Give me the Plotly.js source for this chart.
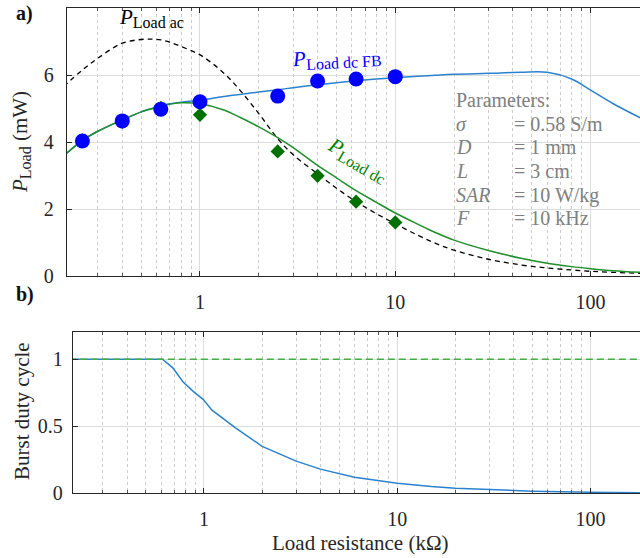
<!DOCTYPE html>
<html>
<head>
<meta charset="utf-8">
<script src="https://cdn.plot.ly/plotly-3.0.1.min.js"></script>
<style>html,body{margin:0;padding:0;background:#fff;}#chart{width:640px;height:558px;}</style>
</head>
<body>
<div id="chart"></div>
<script>
// ---------- Panel a: model curves (load resistance in kΩ, power in mW) ----------
const rCurve = [0.2,0.25,0.3,0.4,0.5,0.57,0.63,0.7,0.8,1,1.3,1.6,2,2.5,3,4,5,6.3,8,10,13,16,20,30,44,60,80,100,130,180];
const pLoadAc = [5.65,6.15,6.5,6.95,7.06,7.07,7.05,6.98,6.85,6.6,6.1,5.55,4.85,4.1,3.62,3.05,2.62,2.22,1.86,1.56,1.22,0.98,0.77,0.5,0.33,0.24,0.18,0.14,0.11,0.08];
const pLoadDc = [3.58,4.05,4.32,4.66,4.9,5.0,5.08,5.13,5.17,5.14,4.97,4.74,4.45,4.13,3.83,3.3,2.93,2.55,2.2,1.88,1.55,1.3,1.07,0.76,0.53,0.38,0.28,0.22,0.16,0.11];
const pLoadDcFB = [3.58,4.05,4.32,4.66,4.9,5.0,5.08,5.14,5.19,5.25,5.35,5.42,5.49,5.56,5.62,5.71,5.77,5.83,5.88,5.92,5.96,5.99,6.02,6.05,6.08,6.08,5.88,5.55,5.15,4.72];

// ---------- Panel a: measurements ----------
const rMeas = [0.25,0.4,0.63,1,2.5,4,6.3,10];
const pFBMeas = [4.03,4.63,4.98,5.2,5.37,5.82,5.88,5.95];
const pDcMeas = [4.05,4.6,5.02,4.81,3.72,2.99,2.22,1.6];

// ---------- Panel b: burst duty cycle ----------
const rDuty = [0.2,0.3,0.4,0.5,0.61,0.69,0.78,0.88,0.99,1.1,1.45,2,3,4,6,10,15,20,30,50,100,180];
const dutyFB = [1,1,1,1,1,0.935,0.83,0.76,0.70,0.62,0.49,0.35,0.24,0.18,0.12,0.075,0.05,0.038,0.026,0.016,0.008,0.005];
const rFull = [0.2,180];
const dutyDc = [1,1];

// ---------- Tick labels ----------
const xTickVals = [1,10,100];
const xTickText = ['1','10','100'];
const yTopTicks = [0,2,4,6,8];
const yBotTicks = [0,0.5,1];
const yBotText = ['0','0.5','1'];

const W = 640, H = 558;
const FONT = 'Liberation Serif';
const AX = '#262626';
const BLUE_LINE = '#2a82cf', GREEN_LINE = '#1f8f2c';

const traces = [
  {x:rCurve, y:pLoadAc, xaxis:'x', yaxis:'y', mode:'lines', line:{color:'#000', width:1.3, dash:'5px,4px', shape:'spline'}},
  {x:rCurve, y:pLoadDcFB, xaxis:'x', yaxis:'y', mode:'lines', line:{color:BLUE_LINE, width:1.5, shape:'spline'}},
  {x:rCurve, y:pLoadDc, xaxis:'x', yaxis:'y', mode:'lines', line:{color:GREEN_LINE, width:1.5, shape:'spline'}},
  {x:rMeas, y:pDcMeas, xaxis:'x', yaxis:'y', mode:'markers', marker:{symbol:'diamond', size:11, color:'#007000'}},
  {x:rMeas, y:pFBMeas, xaxis:'x', yaxis:'y', mode:'markers', marker:{symbol:'circle', size:15, color:'#0000ff'}},
  {x:rDuty, y:dutyFB, xaxis:'x2', yaxis:'y2', mode:'lines', line:{color:BLUE_LINE, width:1.5}},
  {x:rFull, y:dutyDc, xaxis:'x2', yaxis:'y2', mode:'lines', line:{color:'#44ad44', width:1.5, dash:'7px,4px'}}
];

function xAxis(domainLeft, range, anchor){
  return {
    type:'log', domain:[domainLeft/W, 1], range:range, anchor:anchor,
    tickmode:'array', tickvals:xTickVals, ticktext:xTickText,
    showline:true, linecolor:AX, linewidth:1, mirror:'ticks',
    ticks:'inside', ticklen:5, tickcolor:AX, tickwidth:1,
    showgrid:true, gridcolor:'#dcdcdc', gridwidth:1, zeroline:false,
    minor:{dtick:'D1', ticks:'inside', ticklen:3, tickcolor:'#555', showgrid:true, gridcolor:'#cccccc', griddash:'dot', gridwidth:1},
    tickfont:{family:FONT, size:20, color:AX}, ticklabelstandoff:8
  };
}
function yAxis(dom, range, vals, text, anchor, standoff){
  return {
    domain:dom, range:range, anchor:anchor,
    tickmode:'array', tickvals:vals, ticktext:text,
    showline:true, linecolor:AX, linewidth:1, mirror:false,
    ticks:'inside', ticklen:5, tickcolor:AX, tickwidth:1,
    showgrid:true, gridcolor:'#dcdcdc', gridwidth:1, zeroline:false,
    tickfont:{family:FONT, size:20, color:AX}, ticklabelstandoff:standoff
  };
}

const P = (x,y)=>({x:x/W, y:1-y/H});
function ann(text, x, y, opts){
  const p = P(x,y);
  return Object.assign({xref:'paper', yref:'paper', x:p.x, y:p.y, text:text, showarrow:false,
    xanchor:'left', yanchor:'middle', font:{family:FONT, size:20, color:AX}}, opts||{});
}
const sub = (t)=>'<sub><span style="font-size:16px">'+t+'</span></sub>';
const GRAY = '#808080';
const paramNames = ['<i>σ</i>','<i>D</i>','<i>L</i>','<i>SAR</i>','<i>F</i>'];
const paramVals = ['= 0.58 S/m','= 1 mm','= 3 cm','= 10 W/kg','= 10 kHz'];
const paramY = [124,147,171,195,218];

const annotations = [
  ann('<b>a)</b>', 14, 13, {font:{family:FONT, size:20, color:'#111'}}),
  ann('<b>b)</b>', 14, 294, {font:{family:FONT, size:20, color:'#111'}}),
  ann('<i>P</i>'+sub('Load')+' (mW)', 21, 142, {xanchor:'center', textangle:-90, font:{family:FONT, size:21, color:AX}}),
  ann('Burst duty cycle', 22, 411, {xanchor:'center', textangle:-90, font:{family:FONT, size:21, color:AX}}),
  ann('Load resistance (kΩ)', 360, 543, {xanchor:'center', font:{family:FONT, size:21, color:AX}}),
  ann('<i>P</i>'+sub('Load ac'), 117, 18, {font:{family:FONT, size:21, color:'#000'}}),
  ann('<i>P</i>'+sub('Load dc FB'), 289, 58, {textangle:-3, font:{family:FONT, size:21, color:'#0000ff'}}),
  ann('<i>P</i>'+sub('Load dc'), 358, 160, {xanchor:'center', textangle:30, font:{family:FONT, size:21, color:'#008000'}}),
  ann('Parameters:', 454, 100, {font:{family:FONT, size:20, color:GRAY}})
];
paramNames.forEach((n,i)=>{
  annotations.push(ann(n, 454, paramY[i], {font:{family:FONT, size:20, color:GRAY}}));
  annotations.push(ann(paramVals[i], 512, paramY[i], {font:{family:FONT, size:20, color:GRAY}}));
});

const layout = {
  width:W, height:H, margin:{l:0, r:0, t:0, b:0},
  paper_bgcolor:'#fff', plot_bgcolor:'#fff', showlegend:false,
  xaxis: xAxis(66.7, [-0.6825, 2.253], 'y'),
  yaxis: yAxis([(H-276)/H, (H-8)/H], [0,8], yTopTicks, yTopTicks.map(String), 'x', 8),
  xaxis2: xAxis(72.7, [-0.679, 2.2555], 'y2'),
  yaxis2: yAxis([(H-493.3)/H, (H-332.3)/H], [0,1.2], yBotTicks, yBotText, 'x2', 5),
  annotations: annotations
};

Plotly.newPlot('chart', traces, layout, {staticPlot:true, displayModeBar:false});
</script>
</body>
</html>
